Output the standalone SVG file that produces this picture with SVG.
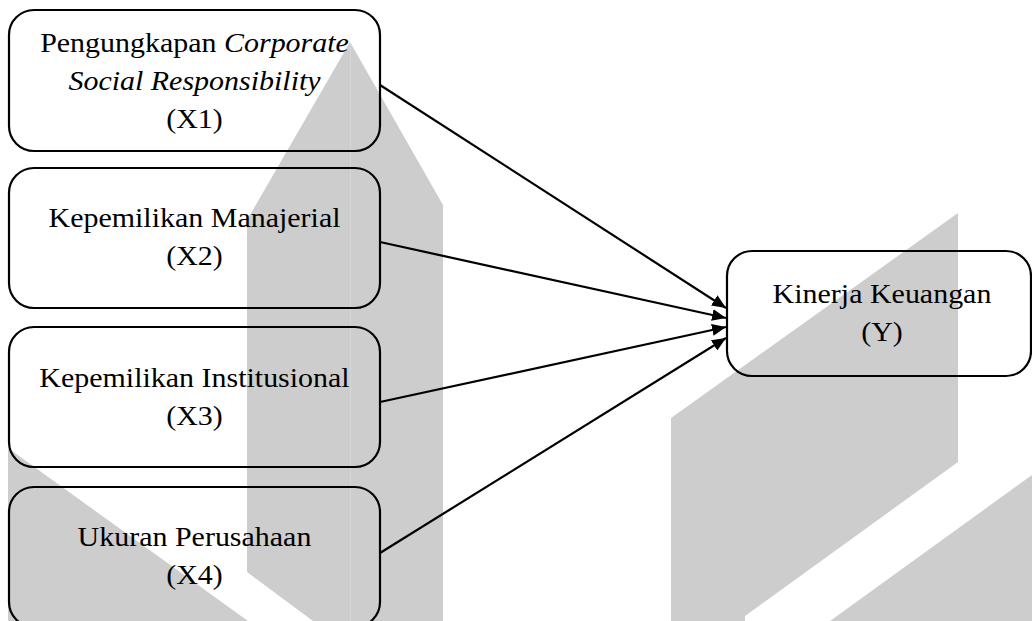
<svg xmlns="http://www.w3.org/2000/svg" width="1032" height="621" viewBox="0 0 1032 621">
<style>
.wm{fill:#cdcdcd;stroke:none}
.box{fill:none;stroke:#000;stroke-width:2.2}
.lbl{font-family:"Liberation Serif","Times New Roman",serif;font-size:27px;fill:#000;text-anchor:middle}
.it{font-style:italic}
.conn{stroke:#000;stroke-width:2.2;fill:none;marker-end:url(#ah)}
</style>
<defs>
<marker id="ah" markerUnits="userSpaceOnUse" markerWidth="15" markerHeight="12" refX="14" refY="6" orient="auto">
<path d="M0,0 L14,6 L0,12 z" fill="#000"/>
</marker>
</defs>
<rect width="1032" height="621" fill="#fff"/>
<g id="watermark">
<polygon class="wm" points="350,42 443,205 443,621 313,621 247,572 247,220"/>
<line x1="350.5" y1="44" x2="350.5" y2="621" stroke="#d6d6d6" stroke-width="1"/>
<polygon class="wm" points="8,448 248,621 8,621"/>
<polygon class="wm" points="671,418 958,213 958,462 745,616 745,621 671,621"/>
<polygon class="wm" points="1032,475 1032,621 830,621"/>
</g>
<g id="connectors">
<line class="conn" x1="380" y1="85" x2="726" y2="308"/>
<line class="conn" x1="380" y1="242" x2="726" y2="318"/>
<line class="conn" x1="380" y1="402" x2="726" y2="327"/>
<line class="conn" x1="380" y1="553" x2="726" y2="338"/>
</g>
<g id="x1">
<rect class="box" x="9" y="10" width="371" height="141" rx="25"/>
<text class="lbl" transform="translate(194.5,52) scale(1.11,1)">Pengungkapan <tspan class="it">Corporate</tspan></text>
<text class="lbl it" transform="translate(194.5,90) scale(1.11,1)">Social Responsibility</text>
<text class="lbl" transform="translate(194.5,128) scale(1.11,1)">(X1)</text>
</g>
<g id="x2">
<rect class="box" x="9" y="168" width="371" height="140" rx="25"/>
<text class="lbl" transform="translate(194.5,227) scale(1.11,1)">Kepemilikan Manajerial</text>
<text class="lbl" transform="translate(194.5,265) scale(1.11,1)">(X2)</text>
</g>
<g id="x3">
<rect class="box" x="9" y="327" width="371" height="140" rx="25"/>
<text class="lbl" transform="translate(194.5,387) scale(1.11,1)">Kepemilikan Institusional</text>
<text class="lbl" transform="translate(194.5,425) scale(1.11,1)">(X3)</text>
</g>
<g id="x4">
<rect class="box" x="9" y="487" width="371" height="140" rx="25"/>
<text class="lbl" transform="translate(194.5,546) scale(1.11,1)">Ukuran Perusahaan</text>
<text class="lbl" transform="translate(194.5,584) scale(1.11,1)">(X4)</text>
</g>
<g id="y">
<rect class="box" x="727" y="251" width="304" height="125" rx="25"/>
<text class="lbl" transform="translate(882,303) scale(1.11,1)">Kinerja Keuangan</text>
<text class="lbl" transform="translate(882,341) scale(1.11,1)">(Y)</text>
</g>
</svg>
